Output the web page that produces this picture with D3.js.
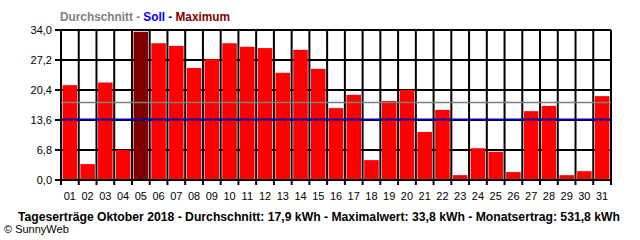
<!DOCTYPE html>
<html><head><meta charset="utf-8">
<script src="https://cdn.jsdelivr.net/npm/d3@7"></script>
<style>
html,body{margin:0;padding:0;background:#fff;}
svg{display:block;}
</style>
</head><body>
<svg id="c" width="640" height="240"></svg>
<script>
const days = ["01","02","03","04","05","06","07","08","09","10","11","12","13","14","15","16","17","18","19","20","21","22","23","24","25","26","27","28","29","30","31"];
const values = [21.5,3.6,22.1,6.8,33.6,31.0,30.4,25.4,27.4,31.0,30.2,29.9,24.3,29.5,25.2,16.3,19.3,4.5,17.9,20.4,10.9,15.9,1.1,7.2,6.4,1.8,15.6,16.8,1.1,2.0,19.0];
const yTicks = [0, 6.8, 13.6, 20.4, 27.2, 34.0];
const sollValue = 13.7;
const legendParts = [
  {text:"Durchschnitt - ", color:"#808080"},
  {text:"Soll - ", color:"#0000ff"},
  {text:"Maximum", color:"#800000"}
];
const footerText = "Tageserträge Oktober 2018 - Durchschnitt: 17,9 kWh - Maximalwert: 33,8 kWh - Monatsertrag: 531,8 kWh";
const creditText = "© SunnyWeb";

const svg = d3.select("#c");
const L = 61, R = 611, T = 30, B = 180;
const x = d3.scaleBand().domain(days).range([L, R]).padding(0);
const y = d3.scaleLinear().domain([0, 34]).range([B, T]);
const fmt = v => d3.format(".1f")(v).replace(".", ",");
const bw = x.bandwidth();
const maxV = d3.max(values);
const avg = d3.mean(values);

// horizontal gridlines + left ticks
svg.append("g").selectAll("line").data(yTicks).join("line")
  .attr("x1", L - 6).attr("x2", R)
  .attr("y1", d => Math.round(y(d))).attr("y2", d => Math.round(y(d)))
  .attr("stroke", "#000").attr("stroke-width", 2);

// vertical gridlines at category boundaries (+ bottom ticks)
const bounds = days.map(d => x(d)).concat([R]);
svg.append("g").selectAll("line").data(bounds).join("line")
  .attr("x1", d => d).attr("x2", d => d)
  .attr("y1", T).attr("y2", B + 5)
  .attr("stroke", "#000").attr("stroke-width", 2);

// bars
svg.append("g").selectAll("rect").data(days).join("rect")
  .attr("x", d => x(d) + 1.6)
  .attr("width", bw - 3.2)
  .attr("y", (d, i) => y(values[i]))
  .attr("height", (d, i) => B - 1 - y(values[i]))
  .attr("fill", (d, i) => values[i] === maxV ? "#800000" : "#ff0000");

// average and target lines
svg.append("line").attr("x1", L).attr("x2", R)
  .attr("y1", Math.round(y(avg)) + 0.5).attr("y2", Math.round(y(avg)) + 0.5)
  .attr("stroke", "#808080").attr("stroke-width", 1.5);
svg.append("line").attr("x1", L).attr("x2", R)
  .attr("y1", y(sollValue)).attr("y2", y(sollValue))
  .attr("stroke", "#0000a0").attr("stroke-width", 2);

// y labels
svg.append("g").selectAll("text").data(yTicks).join("text")
  .attr("x", 52).attr("y", d => y(d) + 4)
  .attr("text-anchor", "end")
  .attr("font-family", "Liberation Sans, Arial, sans-serif").attr("font-size", 11)
  .text(fmt);

// x labels
svg.append("g").selectAll("text").data(days).join("text")
  .attr("x", d => x(d) + bw / 2).attr("y", 200)
  .attr("text-anchor", "middle")
  .attr("font-family", "Liberation Sans, Arial, sans-serif").attr("font-size", 11)
  .text(d => d);

// legend
const lg = svg.append("text").attr("x", 60).attr("y", 21)
  .attr("font-family", "Liberation Sans, Arial, sans-serif").attr("font-size", 12).attr("font-weight", "bold")
  .attr("textLength", 170).attr("lengthAdjust", "spacingAndGlyphs");
legendParts.forEach(p => lg.append("tspan").attr("fill", p.color).text(p.text));

// footer
svg.append("text").attr("x", 18).attr("y", 221)
  .attr("font-family", "Liberation Sans, Arial, sans-serif").attr("font-size", 12).attr("font-weight", "bold")
  .attr("textLength", 602).attr("lengthAdjust", "spacingAndGlyphs")
  .text(footerText);
svg.append("text").attr("x", 4).attr("y", 233)
  .attr("font-family", "Liberation Sans, Arial, sans-serif").attr("font-size", 11)
  .text(creditText);
</script>
</body></html>
